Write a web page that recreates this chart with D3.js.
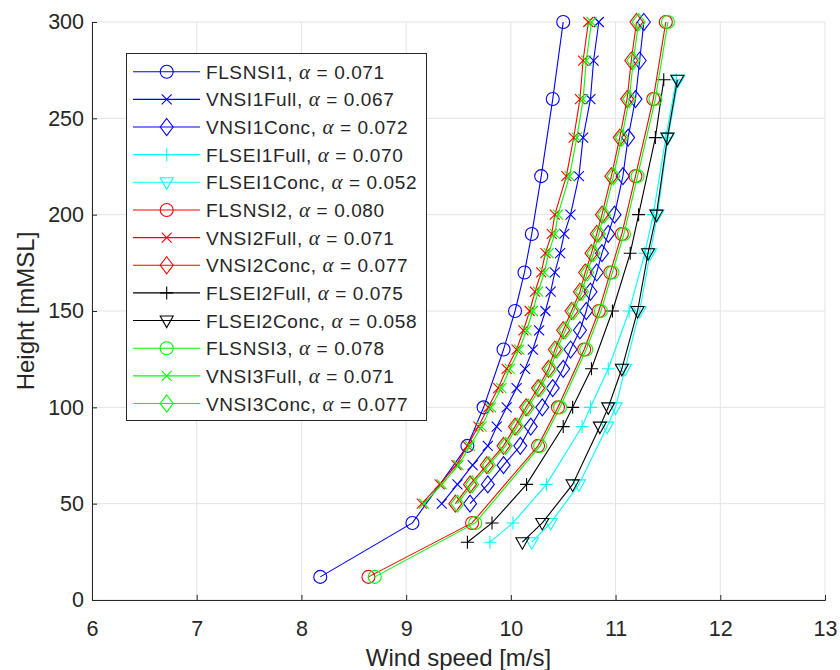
<!DOCTYPE html>
<html>
<head>
<meta charset="utf-8">
<script src="https://cdn.jsdelivr.net/npm/d3@7"></script>
<style>
  body { margin: 0; background: #fff; }
  text { font-family: "Liberation Sans", Arial, sans-serif; fill: #262626; }
</style>
</head>
<body>
<div id="chart"></div>
<script>
// heights [mMSL]
const hFLS = [12, 40, 80, 100, 130, 150, 170, 190, 220, 260, 300];
const hVN = [50, 60, 70, 80, 90, 100, 110, 120, 130, 140, 150, 160, 170, 180, 190, 200, 220, 240, 260, 280, 300];
const hFLSEI = [30, 40, 60, 90, 100, 120, 150, 180, 200, 240, 270];

// wind speeds [m/s]
const FLSNSI1 = [8.18, 9.06, 9.585, 9.74, 9.93, 10.04, 10.13, 10.20, 10.29, 10.40, 10.50];
const VNSI1Full = [9.34, 9.49, 9.635, 9.78, 9.865, 9.96, 10.055, 10.135, 10.21, 10.27, 10.33, 10.38, 10.42, 10.47, 10.51, 10.57, 10.65, 10.69, 10.76, 10.79, 10.84];
const VNSI1Conc = [9.61, 9.78, 9.93, 10.09, 10.19, 10.30, 10.40, 10.50, 10.57, 10.66, 10.72, 10.76, 10.82, 10.87, 10.93, 10.99, 11.07, 11.12, 11.19, 11.23, 11.27];
const FLSEI1Full = [9.80, 10.02, 10.34, 10.68, 10.76, 10.93, 11.13, 11.28, 11.36, 11.48, 11.58];
const FLSEI1Conc = [10.20, 10.38, 10.65, 10.92, 11.00, 11.09, 11.23, 11.33, 11.40, 11.50, 11.60];
const FLSNSI2 = [8.64, 9.63, 10.26, 10.45, 10.70, 10.84, 10.95, 11.06, 11.19, 11.36, 11.48];
const VNSI2Full = [9.15, 9.32, 9.48, 9.585, 9.69, 9.785, 9.88, 9.96, 10.055, 10.12, 10.18, 10.23, 10.29, 10.33, 10.39, 10.42, 10.53, 10.60, 10.66, 10.69, 10.74];
const VNSI2Conc = [9.47, 9.61, 9.77, 9.93, 10.04, 10.145, 10.26, 10.36, 10.42, 10.50, 10.58, 10.66, 10.71, 10.77, 10.82, 10.87, 10.96, 11.04, 11.11, 11.15, 11.20];
const FLSEI2Full = [9.585, 9.82, 10.15, 10.50, 10.59, 10.77, 10.97, 11.14, 11.22, 11.38, 11.46];
const FLSEI2Conc = [10.11, 10.30, 10.59, 10.85, 10.93, 11.06, 11.21, 11.31, 11.39, 11.495, 11.59];
const FLSNSI3 = [8.70, 9.66, 10.28, 10.47, 10.72, 10.86, 10.97, 11.08, 11.21, 11.38, 11.50];
const VNSI3Full = [9.17, 9.34, 9.50, 9.61, 9.72, 9.81, 9.91, 9.99, 10.08, 10.15, 10.21, 10.26, 10.32, 10.36, 10.42, 10.45, 10.56, 10.63, 10.69, 10.72, 10.77];
const VNSI3Conc = [9.49, 9.63, 9.79, 9.95, 10.06, 10.165, 10.28, 10.38, 10.44, 10.52, 10.60, 10.68, 10.73, 10.79, 10.84, 10.89, 10.98, 11.06, 11.13, 11.17, 11.22];

const seriesNames = ["FLSNSI1", "VNSI1Full", "VNSI1Conc", "FLSEI1Full", "FLSEI1Conc", "FLSNSI2", "VNSI2Full", "VNSI2Conc", "FLSEI2Full", "FLSEI2Conc", "FLSNSI3", "VNSI3Full", "VNSI3Conc"];
const alphas = ["0.071", "0.067", "0.072", "0.070", "0.052", "0.080", "0.071", "0.077", "0.075", "0.058", "0.078", "0.071", "0.077"];
const xTicks = [6, 7, 8, 9, 10, 11, 12, 13];
const yTicks = [0, 50, 100, 150, 200, 250, 300];

const series = [
  {speeds: FLSNSI1, h: hFLS, color: "#0000ff", marker: "o"},
  {speeds: VNSI1Full, h: hVN, color: "#0000ff", marker: "x"},
  {speeds: VNSI1Conc, h: hVN, color: "#0000ff", marker: "d"},
  {speeds: FLSEI1Full, h: hFLSEI, color: "#00ffff", marker: "+"},
  {speeds: FLSEI1Conc, h: hFLSEI, color: "#00ffff", marker: "v"},
  {speeds: FLSNSI2, h: hFLS, color: "#ff0000", marker: "o"},
  {speeds: VNSI2Full, h: hVN, color: "#ff0000", marker: "x"},
  {speeds: VNSI2Conc, h: hVN, color: "#ff0000", marker: "d"},
  {speeds: FLSEI2Full, h: hFLSEI, color: "#000000", marker: "+"},
  {speeds: FLSEI2Conc, h: hFLSEI, color: "#000000", marker: "v"},
  {speeds: FLSNSI3, h: hFLS, color: "#00ff00", marker: "o"},
  {speeds: VNSI3Full, h: hVN, color: "#00ff00", marker: "x"},
  {speeds: VNSI3Conc, h: hVN, color: "#00ff00", marker: "d"}
].map((s, i) => ({...s, name: seriesNames[i], alpha: alphas[i],
  pts: s.speeds.map((v, j) => [v, s.h[j]])}));

const width = 840, height = 670;
const m = {left: 92, right: 15, top: 22, bottom: 70};

const svg = d3.select("#chart").append("svg")
  .attr("width", width).attr("height", height);

const x = d3.scaleLinear().domain([6, 13]).range([m.left, width - m.right]);
const y = d3.scaleLinear().domain([0, 300]).range([height - m.bottom, m.top]);

// grid
svg.append("g").selectAll("line").data(xTicks).enter().append("line")
  .attr("x1", d => x(d)).attr("x2", d => x(d))
  .attr("y1", y(0)).attr("y2", y(300))
  .attr("stroke", "#e3e3e3").attr("stroke-width", 1);
svg.append("g").selectAll("line").data(yTicks).enter().append("line")
  .attr("x1", x(6)).attr("x2", x(13))
  .attr("y1", d => y(d)).attr("y2", d => y(d))
  .attr("stroke", "#e3e3e3").attr("stroke-width", 1);

// axes
const xAxis = svg.append("g").attr("transform", `translate(0,${y(0)})`)
  .call(d3.axisBottom(x).tickValues(xTicks).tickSize(-5).tickPadding(21).tickFormat(d3.format("d")));
const yAxis = svg.append("g").attr("transform", `translate(${x(6)},0)`)
  .call(d3.axisLeft(y).tickValues(yTicks).tickSize(-5).tickPadding(8).tickFormat(d3.format("d")));
[xAxis, yAxis].forEach(a => {
  a.select(".domain").attr("stroke", "#262626");
  a.selectAll(".tick line").attr("stroke", "#262626");
  a.selectAll(".tick text").attr("font-size", 21.5).attr("fill", "#262626")
    .attr("font-family", "Liberation Sans, Arial, sans-serif");
});

svg.append("text").attr("x", (x(6) + x(13)) / 2).attr("y", 666)
  .attr("text-anchor", "middle").attr("font-size", 24).text("Wind speed [m/s]");
svg.append("text").attr("transform", `translate(34,${(y(0) + y(300)) / 2}) rotate(-90)`)
  .attr("text-anchor", "middle").attr("font-size", 24).text("Height [mMSL]");

// markers
function markerPath(type) {
  switch (type) {
    case "o": return "M6.5,0A6.5,6.5 0 1,1 -6.5,0A6.5,6.5 0 1,1 6.5,0Z";
    case "x": return "M-5,-5L5,5M-5,5L5,-5";
    case "d": return "M0,-8.5L6.5,0L0,8.5L-6.5,0Z";
    case "+": return "M-6.5,0L6.5,0M0,-6.5L0,6.5";
    case "v": return "M-6.5,-4.5L6.5,-4.5L0,7Z";
  }
}

const line = d3.line().x(d => x(d[0])).y(d => y(d[1]));

const g = svg.append("g");
series.forEach(s => {
  const sg = g.append("g");
  sg.append("path").datum(s.pts).attr("d", line)
    .attr("fill", "none").attr("stroke", s.color).attr("stroke-width", 1.1);
  sg.selectAll("path.m").data(s.pts).enter().append("path").attr("class", "m")
    .attr("transform", d => `translate(${x(d[0])},${y(d[1])})`)
    .attr("d", markerPath(s.marker))
    .attr("fill", "none").attr("stroke", s.color).attr("stroke-width", 1.1);
});

// legend
const lg = svg.append("g");
lg.append("rect").attr("x", 126.5).attr("y", 53.5).attr("width", 300).attr("height", 367)
  .attr("fill", "#fff").attr("stroke", "#262626").attr("stroke-width", 1);
const rows = lg.selectAll("g.row").data(series).enter().append("g")
  .attr("transform", (d, i) => `translate(0,${71.7 + i * 27.65})`);
rows.append("line").attr("x1", 133).attr("x2", 200)
  .attr("stroke", d => d.color).attr("stroke-width", 1.1);
rows.append("path").attr("transform", "translate(166.7,0)")
  .attr("d", d => markerPath(d.marker))
  .attr("fill", "none").attr("stroke", d => d.color).attr("stroke-width", 1.1);
const t = rows.append("text").attr("x", 206).attr("y", 7).attr("font-size", 19)
  .attr("letter-spacing", 0.6);
t.append("tspan").text(d => d.name + ", ");
t.append("tspan").attr("font-family", "Liberation Serif, serif").attr("font-style", "italic")
  .attr("font-size", 21).text("α");
t.append("tspan").text(d => " = " + d.alpha);
</script>
</body>
</html>
